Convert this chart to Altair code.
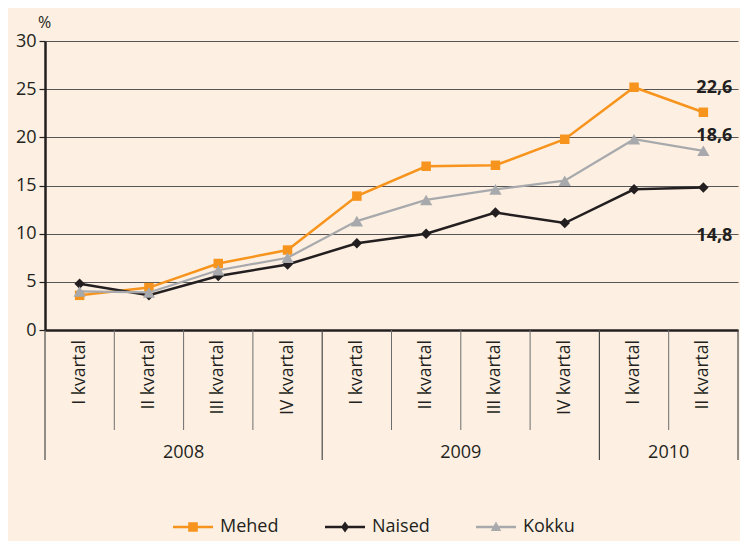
import altair as alt
import pandas as pd

quarters = ["I kvartal", "II kvartal", "III kvartal", "IV kvartal",
            "I kvartal", "II kvartal", "III kvartal", "IV kvartal",
            "I kvartal", "II kvartal"]
years = ["2008", "2009", "2010"]
quarters_per_year = [4, 4, 2]

series_names = ["Mehed", "Naised", "Kokku"]
mehed = [3.6, 4.4, 6.9, 8.3, 13.9, 17.0, 17.1, 19.8, 25.2, 22.6]
naised = [4.8, 3.6, 5.6, 6.8, 9.0, 10.0, 12.2, 11.1, 14.6, 14.8]
kokku = [4.0, 3.9, 6.2, 7.5, 11.3, 13.5, 14.6, 15.5, 19.8, 18.6]

colors = ["#F7941D", "#231F20", "#A7A9AC"]
marker_shapes = ["square", "diamond", "triangle-up"]
marker_sizes = [90, 110, 150]
line_widths = [2.5, 2.5, 2.2]
label_dy = [-24, 49, -15]

legend_paths = [
    "M-1,-0.06H1V0.06H-1Z M-0.24,-0.24H0.24V0.24H-0.24Z",
    "M-1,-0.06H1V0.06H-1Z M0,-0.28L0.2,0L0,0.28L-0.2,0Z",
    "M-1,-0.06H1V0.06H-1Z M0,-0.28L0.26,0.2H-0.26Z",
]

BG = "#FDF0E2"
DARK = "#231F20"
FONT = "Open Sans"
W, H = 693, 289

all_values = [mehed, naised, kokku]
rows = []
for name, vals in zip(series_names, all_values):
    for i, v in enumerate(vals):
        rows.append({"series": name, "pos": i + 0.5, "value": v})
df = pd.DataFrame(rows)

xscale = alt.Scale(domain=[0, len(quarters)], nice=False, zero=False)
yscale = alt.Scale(domain=[0, 30], nice=False)

yaxis = alt.Axis(values=list(range(0, 31, 5)), grid=True, gridColor="#555555",
                 gridWidth=1, domainColor=DARK, domainWidth=2.5, tickColor=DARK,
                 tickSize=6, tickWidth=1.2, labelFontSize=18, labelColor=DARK,
                 labelPadding=3, labelFont=FONT, title="%", titleAngle=0, titleX=-1,
                 titleY=-19, titleAlign="center", titleBaseline="middle",
                 titleFontSize=16, titleFontWeight="normal", titleColor=DARK,
                 titleFont=FONT)
xaxis = alt.Axis(labels=False, ticks=False, grid=False, title=None,
                 domainColor=DARK, domainWidth=2.5)


def X(field):
    return alt.X(field, scale=xscale, axis=xaxis, title=None)


def Y(field):
    return alt.Y(field, scale=yscale, axis=yaxis, title="%")


layers = []

# legend carrier layer: its points lie outside the scale domain and are clipped away
leg_df = pd.DataFrame({"series": series_names, "pos": [-5.0] * 3, "value": [-5.0] * 3})
legend_layer = alt.Chart(leg_df).mark_point(filled=True, opacity=1, clip=True).encode(
    x=X("pos:Q"),
    y=Y("value:Q"),
    color=alt.Color("series:N", scale=alt.Scale(domain=series_names, range=colors),
                    legend=alt.Legend(title=None, orient="none", direction="horizontal",
                                      legendX=128, legendY=466, symbolSize=1600,
                                      symbolOpacity=1, symbolStrokeWidth=0,
                                      labelFontSize=18, labelColor=DARK, labelFont=FONT,
                                      labelOffset=7, columnPadding=46)),
    shape=alt.Shape("series:N", scale=alt.Scale(domain=series_names, range=legend_paths)),
)
layers.append(legend_layer)

# separators below the axis
sep_rows = []
b = 0
sep_rows.append({"b": 0, "kind": "year"})
for n in quarters_per_year:
    for k in range(1, n):
        sep_rows.append({"b": b + k, "kind": "quarter"})
    b += n
    sep_rows.append({"b": b, "kind": "year"})
sep_df = pd.DataFrame(sep_rows)

q_sep = alt.Chart(sep_df).transform_filter(alt.datum.kind == "quarter").mark_rule(
    color="#6d6d6d", strokeWidth=1).encode(
    x=X("b:Q"), y=alt.value(H), y2=alt.value(H + 100))
y_sep = alt.Chart(sep_df).transform_filter(alt.datum.kind == "year").mark_rule(
    color="#4a4a4a", strokeWidth=1.2).encode(
    x=X("b:Q"), y=alt.value(H), y2=alt.value(H + 130))
layers += [q_sep, y_sep]

# quarter labels
q_df = pd.DataFrame({"label": quarters, "pos": [i + 0.5 for i in range(len(quarters))]})
q_text = alt.Chart(q_df).mark_text(angle=270, align="right", baseline="middle",
                                   fontSize=17.5, font=FONT, color=DARK).encode(
    x=X("pos:Q"), y=alt.value(H + 10), text="label:N")
layers.append(q_text)

# year labels
yr_mid = []
b = 0
for n in quarters_per_year:
    yr_mid.append(b + n / 2)
    b += n
yr_df = pd.DataFrame({"label": years, "pos": yr_mid})
yr_text = alt.Chart(yr_df).mark_text(baseline="middle", fontSize=18, font=FONT,
                                     color=DARK).encode(
    x=X("pos:Q"), y=alt.value(H + 123), text="label:N")
layers.append(yr_text)

# series lines and markers
for name, col, shp, sz, lw in zip(series_names, colors, marker_shapes, marker_sizes, line_widths):
    base = alt.Chart(df).transform_filter(alt.datum.series == name)
    line = base.mark_line(color=col, strokeWidth=lw).encode(x=X("pos:Q"), y=Y("value:Q"))
    pts = base.mark_point(shape=shp, filled=True, opacity=1, color=col, size=sz).encode(
        x=X("pos:Q"), y=Y("value:Q"))
    layers += [line, pts]

# end value labels
for name, vals, dy in zip(series_names, all_values, label_dy):
    lab_df = pd.DataFrame({"pos": [len(vals) - 0.5], "value": [vals[-1]],
                           "txt": [f"{vals[-1]:.1f}".replace(".", ",")]})
    t = alt.Chart(lab_df).mark_text(fontSize=18, fontWeight="bold", font=FONT,
                                    color=DARK, dx=11, dy=dy, baseline="middle").encode(
        x=X("pos:Q"), y=Y("value:Q"), text="txt:N")
    layers.append(t)

chart = alt.layer(*layers).properties(
    width=W, height=H, background=BG,
    autosize=alt.AutoSizeParams(type="none"),
    padding={"left": 37, "top": 33, "right": 2, "bottom": 211},
).configure_view(stroke=None)

chart.save("out.html", embed_options={"renderer": "svg", "actions": False})
